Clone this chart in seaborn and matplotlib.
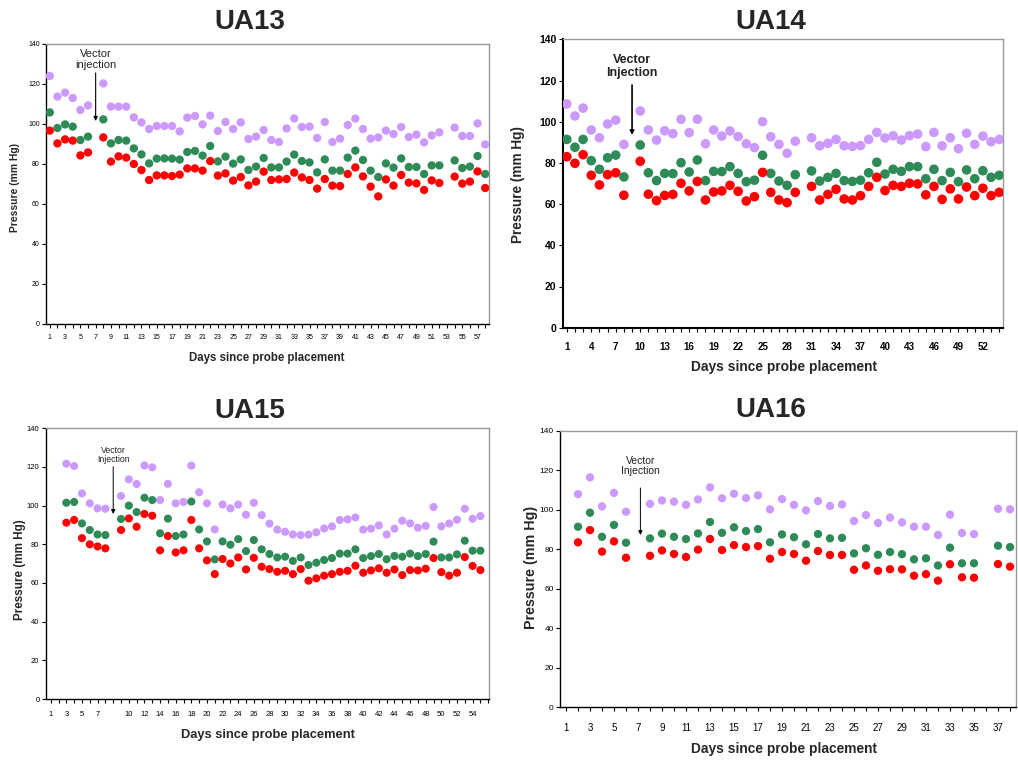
import numpy as np
import pandas as pd
import matplotlib
matplotlib.use("Agg")
import matplotlib.pyplot as plt
import seaborn as sns

sns.set_style("white")
plt.rcParams["font.family"] = ["Liberation Sans", "DejaVu Sans"]

N = None
SERIES = ["Systolic", "Mean", "Diastolic"]
COLORS = ["#CC99FF", "#2E8B57", "#FF0000"]

# ---------------- UA13 (days 1..58) ----------------
ua13_days = list(range(1, 59))
ua13_sys = [124, 113.7, 115.7, 113, 107, 109.3, N, 120.3, 108.7, 108.7,
            108.7, 103.3, 100.8, 97.5, 99, 99, 99, 96.3, 103.2, 104,
            99.8, 104.2, 96.5, 101, 97.5, 100.8, 92.5, 93.7, 97, 92,
            91, 97.8, 102.8, 98.5, 98.7, 93, 101, 91, 92.7, 99.5,
            102.7, 97.5, 92.7, 93.3, 96.7, 95, 98.5, 93.5, 94.7, 90.8,
            94.3, 95.8, N, 98.2, 94, 94, 100.3, 89.8]
ua13_mean = [105.8, 98, 99.8, 98.7, 92, 93.7, N, 102.3, 90.3, 92,
             91.7, 87.8, 84.8, 80.3, 82.7, 82.8, 82.7, 82.2, 86, 86.5,
             84.2, 89, 81.3, 83.7, 80.2, 82.3, 77, 78.7, 83, 78.3,
             78.3, 81.2, 84.7, 81.5, 80.8, 75.8, 82.3, 76.7, 76.7, 83.2,
             86.7, 82, 76.7, 73.5, 80.3, 78.2, 82.8, 78.5, 78.5, 75,
             79.3, 79.3, N, 81.8, 78, 78.7, 84, 75]
ua13_dia = [96.7, 90.3, 92.3, 91.7, 84.3, 85.8, N, 93.3, 81.2, 83.8,
            83.2, 80, 77, 72, 74.3, 74.3, 74, 74.7, 77.8, 77.8,
            76.7, 81.5, 74.2, 75.3, 71.7, 73.5, 69.3, 71.2, 76.2, 72,
            72.3, 72.5, 75.7, 73.3, 72, 67.7, 72.5, 69.2, 69, 75,
            78.3, 73.8, 68.7, 63.8, 72.3, 69.2, 74.5, 70.7, 70.3, 67,
            71.8, 70.5, N, 73.7, 70.2, 71.2, 76.3, 68]
ua13_ticklabels = [str(d) for d in ua13_days]

# ---------------- UA14 (days 1..54) ----------------
ua14_days = list(range(1, 55))
ua14_sys = [108.6, 102.8, 106.6, 96, 92.2, 98.9, 100.8, 89, N, 105.2,
            96, 91.1, 95.6, 94.2, 101.2, 94.7, 101.2, 89.3, 96, 93,
            95.5, 92.8, 89.3, 87.4, 100, 92.7, 89, 84.7, 90.5, N,
            92.2, 88.3, 89.5, 91.4, 88.3, 88, 88.4, 91.4, 94.8, 92.1,
            93.2, 91.1, 93.2, 94, 87.9, 94.8, 88.3, 92.2, 86.9, 94.4,
            89, 93, 90.3, 91.4]
ua14_mean = [91.4, 87.6, 91.4, 81.1, 76.9, 82.5, 83.8, 73.2, N, 88.7,
             75.2, 71.4, 74.9, 74.8, 80.1, 75.6, 81.4, 71.4, 75.9, 75.8,
             78.2, 74.9, 70.9, 71.6, 83.7, 74.9, 71.2, 69.1, 74.3, N,
             76.1, 71.2, 73, 74.9, 71.4, 71, 71.6, 75.2, 80.3, 74.6,
             76.9, 75.9, 78.2, 78.2, 72.3, 76.9, 71.4, 75.4, 70.9, 76.6,
             72.3, 76.2, 73, 74]
ua14_dia = [83, 79.8, 84, 74, 69.3, 74.3, 75.2, 64.3, N, 80.8,
            64.8, 61.7, 64.2, 64.7, 70.1, 66.4, 71, 62, 65.9, 66.4,
            69.1, 66.2, 61.5, 63.6, 75.4, 65.7, 62, 60.7, 65.7, N,
            68.6, 62, 64.7, 67.2, 62.5, 62, 64.1, 68.6, 73, 66.6,
            69.1, 68.6, 70.1, 69.8, 64.5, 68.6, 62.3, 67.4, 62.5, 68.3,
            64.1, 67.7, 64.1, 65.7]
ua14_ticklabels = [str(d) for d in ua14_days]

# ---------------- UA15 (57 category slots, blank slot at injection) ----------------
ua15_ticklabels = ["1", "2", "3", "4", "5", "6", "7", "8", "", "9"] + [str(d) for d in range(10, 57)]
ua15_sys = [N, N, 121.7, 120.5, 106.3, 101.2, 98.6, 98.4, N, 105,
            113.6, 111.2, 120.8, 119.8, 102.9, 111.3, 101.2, 101.9, 120.7, 106.9,
            101.2, 87.7, 100.6, 98.6, 100.6, 95.3, 101.5, 95.1, 90.7, 87.6,
            86.5, 85.1, 84.8, 85, 86.2, 88.2, 89.3, 92.6, 92.9, 93.9,
            87.6, 88.1, 89.8, 85.1, 88.1, 92.2, 90.8, 88.6, 89.5, 99.3,
            89.3, 90.8, 92.7, 98.4, 93.2, 94.6, N]
ua15_mean = [N, N, 101.5, 101.9, 90.8, 87.4, 85.1, 84.8, N, 93.1,
             100, 96.7, 104.1, 102.9, 85.7, 93.3, 84.3, 85.1, 102.1, 87.7,
             81.5, 72.2, 81.5, 79.8, 82.7, 76.5, 82.2, 77.4, 75, 73.2,
             73.6, 71.4, 73.2, 69.3, 70.5, 71.9, 72.9, 75.2, 75.2, 77.4,
             72.9, 73.9, 75, 72.3, 74, 73.6, 75.2, 73.9, 75, 81.4,
             73.2, 73.2, 74.8, 81.9, 76.7, 76.7, N]
ua15_dia = [N, N, 91.2, 92.6, 83.2, 80, 78.9, 77.9, N, 87.4,
            93.4, 89.1, 95.7, 94.8, 76.9, 84.3, 75.8, 76.9, 92.6, 77.9,
            71.7, 64.6, 72.4, 70.1, 73.2, 67, 73, 68.4, 67.2, 65.8,
            66.3, 64.6, 67.2, 61.2, 62.4, 63.8, 64.6, 65.8, 66.3, 68.9,
            65.3, 66.5, 67.6, 65.3, 67, 64.1, 66.7, 66.5, 67.4, 72.9,
            65.6, 63.8, 65.3, 73.4, 68.8, 66.7, N]

# ---------------- UA16 (days 1..38) ----------------
ua16_days = list(range(1, 39))
ua16_sys = [N, 107.9, 116.4, 101.7, 108.5, 99, N, 103, 104.7, 104.1,
            102.5, 105.2, 111.3, 105.8, 108.1, 105.9, 107.3, 100.2, 105.4, 102.5,
            99.7, 104.4, 101.9, 102.7, 94.3, 97.3, 93.3, 96, 93.6, 91.4,
            91.4, 87.2, 97.5, 88.2, 87.7, N, 100.5, 100.2]
ua16_mean = [N, 91.4, 98.5, 86.3, 92.3, 83.3, N, 85.5, 87.9, 86.3,
             85.2, 88, 93.8, 88.3, 91.1, 89.2, 90.2, 83.5, 87.5, 86.1,
             82.5, 87.7, 85.5, 85.8, 77.9, 80.5, 77.2, 78.6, 77.5, 74.9,
             75.4, 71.8, 80.8, 72.9, 72.9, N, 81.8, 81.1]
ua16_dia = [N, 83.5, 89.7, 78.8, 84, 75.7, N, 76.7, 79.4, 77.6,
            76.1, 79.8, 85.2, 79.6, 82.1, 81.1, 81.6, 75.2, 78.6, 77.6,
            74.2, 79.1, 77.1, 77.1, 69.6, 71.8, 69.1, 69.9, 69.8, 66.6,
            67.4, 64.1, 72.4, 65.8, 65.6, N, 72.5, 71.2]
ua16_ticklabels = [str(d) for d in ua16_days]

Y_TICKS = [0, 20, 40, 60, 80, 100, 120, 140]

W, H = 1018, 761
fig = plt.figure(figsize=(W / 100, H / 100), dpi=100)
fig.patch.set_facecolor("white")


def px_axes(left, top, right, bottom):
    return fig.add_axes([left / W, 1 - bottom / H, (right - left) / W, (bottom - top) / H])


def draw(ax, labels, sys_v, mean_v, dia_v, size):
    cats = pd.Categorical(labels, categories=labels)
    pos = cats.codes
    rows = []
    for name, vals in zip(SERIES, [sys_v, mean_v, dia_v]):
        for p, v in zip(pos, vals):
            if v is not None:
                rows.append((p, v, name))
    df = pd.DataFrame(rows, columns=["slot", "pressure", "series"])
    sns.scatterplot(data=df, x="slot", y="pressure", hue="series", hue_order=SERIES,
                    palette=COLORS, s=size, linewidth=0, legend=False, ax=ax, zorder=3)


def style(ax, labels, step, last, xlim, ytick_fs, xtick_fs, tick_weight, spine_lw, xpad):
    n = len(labels)
    ax.set_ylim(0, 140)
    ax.set_xlim(*xlim)
    ax.set_yticks(Y_TICKS)
    ax.set_yticklabels([str(t) for t in Y_TICKS], fontsize=ytick_fs, fontweight=tick_weight)
    major = list(range(0, last + 1, step))
    ax.set_xticks(major)
    ax.set_xticklabels([labels[i] for i in major], fontsize=xtick_fs, fontweight=tick_weight)
    ax.set_xticks(range(n), minor=True)
    ax.tick_params(axis="both", which="both", direction="out", length=3, width=0.8,
                   colors="black", bottom=True, left=True)
    ax.tick_params(axis="y", pad=1.5)
    ax.tick_params(axis="x", pad=xpad)
    ax.set_xlabel("")
    ax.set_ylabel("")
    for side in ["left", "bottom"]:
        ax.spines[side].set_color("black")
        ax.spines[side].set_linewidth(spine_lw)
    for side in ["top", "right"]:
        ax.spines[side].set_color("#999999")
        ax.spines[side].set_linewidth(1.0)
    ax.grid(False)


def injection(ax, x, text_y, arrow_from, arrow_to, text, fs, weight, lw):
    ax.annotate("", xy=(x, arrow_to), xytext=(x, arrow_from),
                arrowprops=dict(arrowstyle="-|>", color="black", lw=lw, mutation_scale=6,
                                shrinkA=0, shrinkB=0), zorder=4)
    ax.text(x, text_y, text, ha="center", va="center", fontsize=fs, fontweight=weight,
            color="#222222", linespacing=1.1, zorder=4)


# UA13
ax1 = px_axes(46, 44, 489, 324)
draw(ax1, ua13_ticklabels, ua13_sys, ua13_mean, ua13_dia, 36)
style(ax1, ua13_ticklabels, 2, 57, (-0.5, 57.5), 5, 5, "normal", 1.0, 4.5)
injection(ax1, 6, 132.3, 125.5, 101.5, "Vector\ninjection", 8, "normal", 0.8)

# UA14
ax2 = px_axes(562.7, 39.3, 1003.3, 327.7)
draw(ax2, ua14_ticklabels, ua14_sys, ua14_mean, ua14_dia, 48)
style(ax2, ua14_ticklabels, 3, 53, (-0.5, 53.5), 7.5, 7, "bold", 1.5, 7)
injection(ax2, 8, 126.7, 117.8, 93.5, "Vector\nInjection", 9, "bold", 1.2)

# UA15
ax3 = px_axes(45.7, 428.3, 489, 699)
draw(ax3, ua15_ticklabels, ua15_sys, ua15_mean, ua15_dia, 34)
style(ax3, ua15_ticklabels, 2, 54, (-0.64, 56.1), 5.5, 5.5, "normal", 1.0, 5.5)
injection(ax3, 8, 126.2, 120.1, 95.7, "Vector\nInjection", 6.3, "normal", 0.7)

# UA16
ax4 = px_axes(560, 430.7, 1016, 707.3)
draw(ax4, ua16_ticklabels, ua16_sys, ua16_mean, ua16_dia, 36)
style(ax4, ua16_ticklabels, 2, 37, (-0.5, 37.5), 6, 7, "normal", 1.0, 8)
injection(ax4, 6.2, 122.1, 111.0, 87.2, "Vector\nInjection", 7.5, "normal", 0.7)

# titles
for x, y, t in [(250, 22, "UA13"), (771, 22, "UA14"), (250, 411, "UA15"), (771, 410, "UA16")]:
    fig.text(x / W, 1 - y / H, t, ha="center", va="center", fontsize=20, fontweight="bold")

# x labels
for x, y, fs in [(267, 358, 8.3), (784, 367, 9.9), (268, 735, 9.3), (784, 749, 9.9)]:
    fig.text(x / W, 1 - y / H, "Days since probe placement", ha="center", va="center",
             fontsize=fs, fontweight="bold")

# y labels
for x, y, fs in [(15, 188, 7.4), (518, 185, 9.8), (20, 570, 8.4), (531, 567, 10.3)]:
    fig.text(x / W, 1 - y / H, "Pressure (mm Hg)", ha="center", va="center",
             fontsize=fs, fontweight="bold", rotation=90)

fig.savefig("out.png", dpi=100, facecolor="white")
